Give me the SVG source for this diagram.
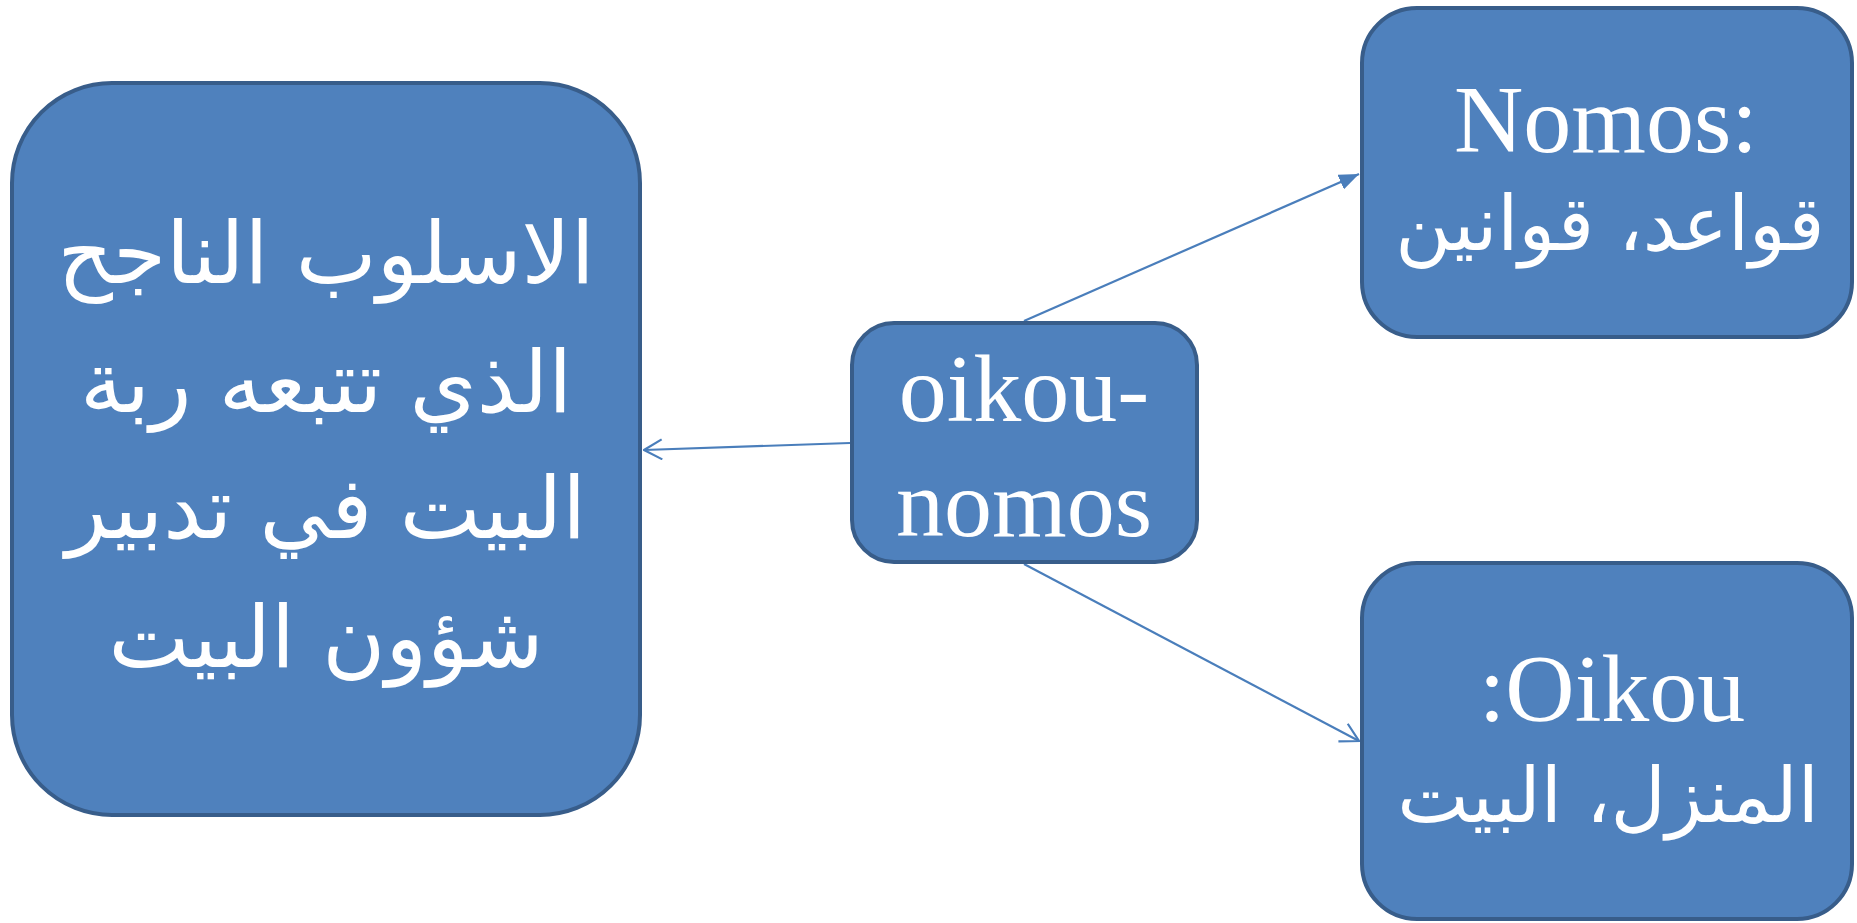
<svg xmlns="http://www.w3.org/2000/svg" width="1857" height="923" viewBox="0 0 1857 923">
<style>
.node{fill:#4F81BD;stroke:#385D8A;stroke-width:4}
.lat{font-family:"Liberation Serif","Times New Roman",serif;font-size:96px;fill:#FFFFFF;text-anchor:middle}
.ar{font-family:"DejaVu Sans","Liberation Serif",sans-serif;font-size:86px;fill:#FFFFFF;text-anchor:middle}
.ar2{font-family:"DejaVu Sans","Liberation Serif",sans-serif;font-size:76px;fill:#FFFFFF;text-anchor:middle}
.conn{stroke:#4A7EBB;stroke-width:2.2;fill:none}
</style>
<defs>
<marker id="openArrow" viewBox="0 0 20 22" refX="19" refY="11" markerWidth="20" markerHeight="22" orient="auto" markerUnits="userSpaceOnUse">
<path d="M1,1 L19,11 L1,21" fill="none" stroke="#4A7EBB" stroke-width="2.2"/>
</marker>
<marker id="fillArrow" viewBox="0 0 20 16" refX="20" refY="8" markerWidth="20" markerHeight="16" orient="auto" markerUnits="userSpaceOnUse">
<path d="M0,0 L20,8 L0,16 Z" fill="#4A7EBB"/>
</marker>
</defs>
<g id="connectors">
<line class="conn" x1="850" y1="443" x2="644" y2="450" marker-end="url(#openArrow)"/>
<line class="conn" x1="1024" y1="321" x2="1359" y2="174" marker-end="url(#fillArrow)"/>
<line class="conn" x1="1024" y1="564" x2="1359" y2="741" marker-end="url(#openArrow)"/>
</g>
<g id="node-left">
<rect class="node" x="12" y="83" width="628" height="732" rx="100" ry="100"/>
<text class="ar" x="326" y="283">الاسلوب الناجح</text>
<text class="ar" x="326" y="412">الذي تتبعه ربة</text>
<text class="ar" x="326" y="538">البيت في تدبير</text>
<text class="ar" x="326" y="667">شؤون البيت</text>
</g>
<g id="node-center">
<rect class="node" x="852" y="323" width="345" height="239" rx="42" ry="42"/>
<text class="lat" x="1024" y="421">oikou-</text>
<text class="lat" x="1024" y="536">nomos</text>
</g>
<g id="node-nomos">
<rect class="node" x="1362" y="8" width="490" height="329" rx="55" ry="55"/>
<text class="lat" x="1606" y="152">Nomos:</text>
<text class="ar2" x="1610" y="250">قواعد، قوانين</text>
</g>
<g id="node-oikou">
<rect class="node" x="1362" y="563" width="490" height="356" rx="55" ry="55"/>
<text class="lat" x="1612" y="721">:Oikou</text>
<text class="ar2" x="1608" y="822">المنزل، البيت</text>
</g>
</svg>
